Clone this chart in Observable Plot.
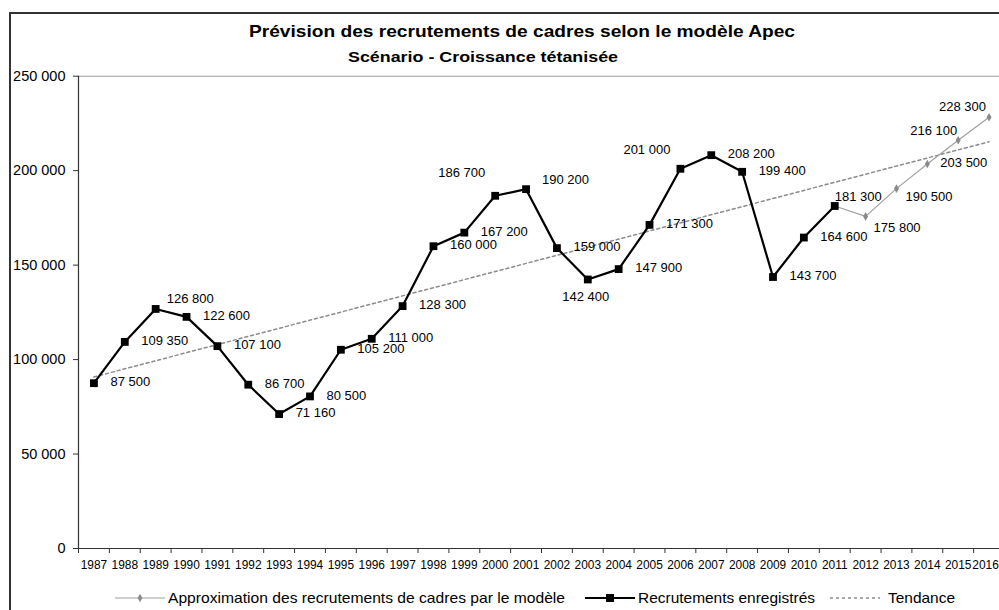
<!DOCTYPE html>
<html>
<head>
<meta charset="utf-8">
<script src="https://cdn.jsdelivr.net/npm/d3@7"></script>
<script src="https://cdn.jsdelivr.net/npm/@observablehq/plot@0.6"></script>
<style>
  html, body { margin: 0; padding: 0; background: #fff; }
  #wrap { position: relative; width: 999px; height: 610px; overflow: hidden; font-family: "Liberation Sans", Arial, sans-serif; }
  #frame { position: absolute; left: 9px; top: 12px; width: 1200px; height: 800px; border-left: 2px solid #333; border-top: 2px solid #333; box-sizing: border-box; }
  #chart { position: absolute; left: 0; top: 0; width: 1016px; height: 610px; }
  #chart svg { max-width: none !important; }
  #overlay { position: absolute; left: 0; top: 0; pointer-events: none; }
</style>
</head>
<body>
<div id="wrap">
  <div id="frame"></div>
  <div id="chart"></div>
  <svg id="overlay" width="999" height="610" font-family="Liberation Sans, Arial, sans-serif">
    <text x="249" y="37" font-size="17" font-weight="bold" textLength="546" lengthAdjust="spacingAndGlyphs">Prévision des recrutements de cadres selon le modèle Apec</text>
    <text x="348" y="62" font-size="15" font-weight="bold" textLength="270" lengthAdjust="spacingAndGlyphs">Scénario - Croissance tétanisée</text>
    <g id="legend"></g>
  </svg>
</div>
<script>
// ---- Data ----
const recordedYears = [1987,1988,1989,1990,1991,1992,1993,1994,1995,1996,1997,1998,1999,2000,2001,2002,2003,2004,2005,2006,2007,2008,2009,2010,2011];
const recordedValues = [87500,109350,126800,122600,107100,86700,71160,80500,105200,111000,128300,160000,167200,186700,190200,159000,142400,147900,171300,201000,208200,199400,143700,164600,181300];
const modelYears = [2011,2012,2013,2014,2015,2016];
const modelValues = [181300,175800,190500,203500,216100,228300];
const trendYears = [1987,2016];
const trendValues = [90800,215300];
const axisYears = [1987,1988,1989,1990,1991,1992,1993,1994,1995,1996,1997,1998,1999,2000,2001,2002,2003,2004,2005,2006,2007,2008,2009,2010,2011,2012,2013,2014,2015,2016];
const yTicks = [0,50000,100000,150000,200000,250000];
const seriesNames = ["Approximation des recrutements de cadres par le modèle","Recrutements enregistrés","Tendance"];

// label placement (style only): [textAnchor, dx, dy]
const labelPlacement = {
  1989: ["start", 11, -10],
  2000: ["end", -10, -23],
  2001: ["start", 16, -9],
  2003: ["middle", -2, 17],
  2006: ["end", -10, -19],
  2011: ["start", 0, -9],
  2012: ["start", 8, 11],
  2013: ["start", 9, 8],
  2014: ["start", 13, -1],
  2015: ["end", -1, -9],
  2016: ["end", -3, -10]
};

const recorded = recordedYears.map((y,i) => ({year: y, value: recordedValues[i]}));
const model = modelYears.map((y,i) => ({year: y, value: modelValues[i]}));
const trend = trendYears.map((y,i) => ({year: y, value: trendValues[i]}));
const labelled = recorded.concat(model.filter(d => d.year !== 2011));

const fmt = v => d3.format(",")(v).replace(/,/g, " ");
const boundaries = axisYears.map(y => y - 0.5).concat([axisYears[axisYears.length-1] + 0.5]);
const lastYear = axisYears[axisYears.length - 1];

const labelMarks = labelled.map(d => {
  const p = labelPlacement[d.year] || ["start", 16.5, -1];
  return Plot.text([d], {x: "year", y: "value", text: d => fmt(d.value), textAnchor: p[0], dx: p[1], dy: p[2], fontSize: 13, fill: "#000"});
});

const chart = Plot.plot({
  width: 1016,
  height: 610,
  marginLeft: 78,
  marginRight: 12,
  marginTop: 75.7,
  marginBottom: 62,
  style: {fontFamily: "Liberation Sans, Arial, sans-serif", color: "#000", background: "transparent", overflow: "visible", maxWidth: "none"},
  x: {type: "linear", domain: [1986.5, 2016.5]},
  y: {domain: [0, 250000]},
  marks: [
    Plot.ruleY([250000], {stroke: "#9a9a9a", strokeWidth: 1}),
    Plot.line(trend, {x: "year", y: "value", stroke: "#8c8c8c", strokeWidth: 1.5, strokeDasharray: "3,3"}),
    Plot.line(model, {x: "year", y: "value", stroke: "#a0a0a0", strokeWidth: 1.2}),
    Plot.dot(model.filter(d => d.year !== 2011), {x: "year", y: "value", symbol: "diamond", r: 2.6, fill: "#8a8a8a", stroke: "none"}),
    Plot.line(recorded, {x: "year", y: "value", stroke: "#000", strokeWidth: 2.2}),
    Plot.dot(recorded, {x: "year", y: "value", symbol: "square", r: 4.4, fill: "#000", stroke: "none"}),
    Plot.ruleX([1986.5], {stroke: "#333", strokeWidth: 1.2}),
    Plot.ruleY([0], {stroke: "#333", strokeWidth: 1.2}),
    Plot.axisY(yTicks, {tickSize: 5, tickPadding: 8, tickFormat: fmt, fontSize: 14.5, stroke: "#333", label: null}),
    Plot.axisX(boundaries, {tickSize: 5, tickFormat: () => "", stroke: "#333", label: null}),
    Plot.axisX(axisYears.filter(y => y !== lastYear), {tickSize: 0, tickPadding: 12, tickFormat: d => String(d), fontSize: 11.9, label: null}),
    Plot.axisX([lastYear], {tickSize: 0, tickPadding: 12, tickFormat: d => String(d), fontSize: 11.9, dx: -3.5, label: null}),
    ...labelMarks
  ]
});
document.getElementById("chart").appendChild(chart);

// ---- Legend ----
const lg = d3.select("#legend");
const ly = 598;
// item 1
lg.append("line").attr("x1", 115).attr("x2", 165).attr("y1", ly).attr("y2", ly).attr("stroke", "#a0a0a0").attr("stroke-width", 1.2);
lg.append("path").attr("d", d3.symbol(d3.symbolDiamond, 20)()).attr("transform", `translate(140,${ly})`).attr("fill", "#8a8a8a");
lg.append("text").attr("x", 168).attr("y", ly + 5).attr("font-size", 14.5).attr("textLength", 397).attr("lengthAdjust", "spacingAndGlyphs").text(seriesNames[0]);
// item 2
lg.append("line").attr("x1", 585).attr("x2", 635).attr("y1", ly).attr("y2", ly).attr("stroke", "#000").attr("stroke-width", 2.2);
lg.append("rect").attr("x", 606).attr("y", ly - 4).attr("width", 8).attr("height", 8).attr("fill", "#000");
lg.append("text").attr("x", 638).attr("y", ly + 5).attr("font-size", 14.5).attr("textLength", 177).attr("lengthAdjust", "spacingAndGlyphs").text(seriesNames[1]);
// item 3
lg.append("line").attr("x1", 830).attr("x2", 880).attr("y1", ly).attr("y2", ly).attr("stroke", "#8c8c8c").attr("stroke-width", 1.5).attr("stroke-dasharray", "3,3");
lg.append("text").attr("x", 888).attr("y", ly + 5).attr("font-size", 14.5).attr("textLength", 67).attr("lengthAdjust", "spacingAndGlyphs").text(seriesNames[2]);
</script>
</body>
</html>
